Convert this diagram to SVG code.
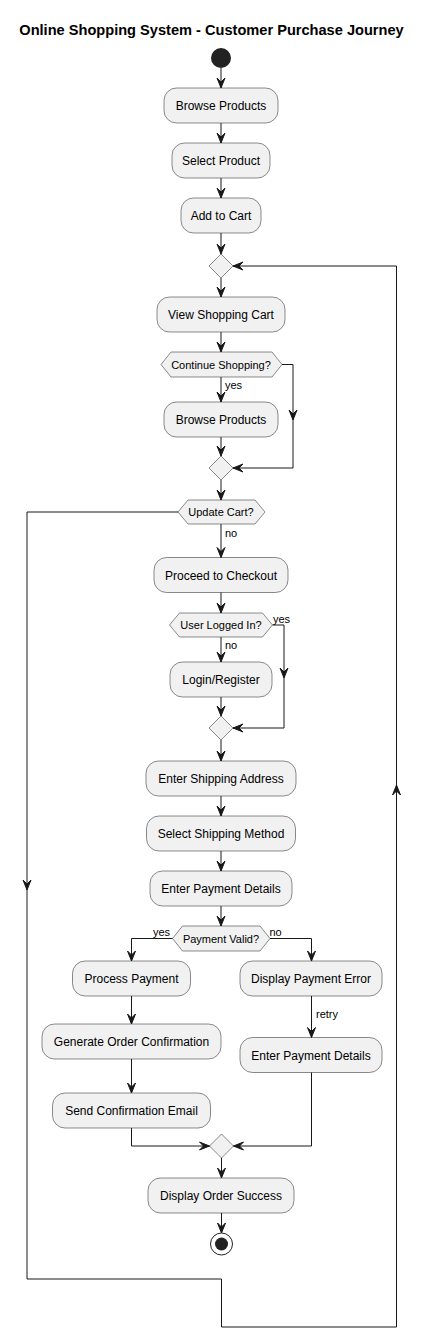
<svg xmlns="http://www.w3.org/2000/svg" width="425" height="1338" viewBox="0 0 425 1338">
<style>
.n rect{fill:#F1F1F1;stroke:#181818;stroke-width:0.5}
.n polygon{fill:#F1F1F1;stroke:#181818;stroke-width:0.5}
.t{font-family:"Liberation Sans",Arial,sans-serif;font-size:12px;fill:#000;text-anchor:middle}
.d{font-family:"Liberation Sans",Arial,sans-serif;font-size:11px;fill:#000;text-anchor:middle}
.l{font-family:"Liberation Sans",Arial,sans-serif;font-size:11px;fill:#000}
.title{font-family:"Liberation Sans",Arial,sans-serif;font-size:14.6px;font-weight:bold;fill:#000;text-anchor:middle}
#edges path{fill:none;stroke:#181818;stroke-width:1}
.ah{fill:#181818;stroke:#181818;stroke-width:1}
</style>
<defs>
<marker id="arr" markerUnits="userSpaceOnUse" markerWidth="12" markerHeight="10" refX="10" refY="4" orient="auto" overflow="visible">
<path d="M0,0 L10,4 L0,8 L4,4 Z" fill="#181818" stroke="#181818" stroke-width="1"/>
</marker>
<path id="ahd" d="M-4,-10 L0,0 L4,-10 L0,-6 Z"/>
</defs>
<rect width="425" height="1338" fill="#FFFFFF"/>
<text class="title" x="211.5" y="35">Online Shopping System - Customer Purchase Journey</text>

<g id="start"><circle cx="221" cy="58" r="10" fill="#222222"/></g>
<g id="browse1" class="n"><rect x="164" y="88" width="114" height="35" rx="12.5"/><text class="t" x="221" y="110">Browse Products</text></g>
<g id="select" class="n"><rect x="172" y="143" width="98" height="35" rx="12.5"/><text class="t" x="221" y="165">Select Product</text></g>
<g id="addcart" class="n"><rect x="181" y="198" width="80" height="35" rx="12.5"/><text class="t" x="221" y="220">Add to Cart</text></g>
<g id="merge1" class="n"><polygon points="221,254 233,266 221,278 209,266"/></g>
<g id="viewcart" class="n"><rect x="157" y="297" width="128" height="35" rx="12.5"/><text class="t" x="221" y="319">View Shopping Cart</text></g>
<g id="continue" class="n"><polygon points="161,364.5 171,352 272,352 282,364.5 272,377 171,377"/><text class="d" x="221" y="368.5">Continue Shopping?</text></g>
<g id="browse2" class="n"><rect x="164" y="402" width="114" height="35" rx="12.5"/><text class="t" x="221" y="424">Browse Products</text></g>
<g id="merge2" class="n"><polygon points="221,456 233,468 221,480 209,468"/></g>
<g id="update" class="n"><polygon points="178,512 188,500 255,500 265,512 255,524 188,524"/><text class="d" x="221" y="516">Update Cart?</text></g>
<g id="checkout" class="n"><rect x="154" y="557.5" width="134" height="35" rx="12.5"/><text class="t" x="221" y="579.5">Proceed to Checkout</text></g>
<g id="logged" class="n"><polygon points="169.5,625 179.5,613 262.5,613 272.5,625 262.5,637 179.5,637"/><text class="d" x="221" y="629">User Logged In?</text></g>
<g id="login" class="n"><rect x="170" y="662" width="102" height="35" rx="12.5"/><text class="t" x="221" y="684">Login/Register</text></g>
<g id="merge3" class="n"><polygon points="221,716 233,728 221,740 209,728"/></g>
<g id="shipaddr" class="n"><rect x="146" y="761" width="150" height="35" rx="12.5"/><text class="t" x="221" y="783">Enter Shipping Address</text></g>
<g id="shipmethod" class="n"><rect x="146.5" y="816" width="149" height="35" rx="12.5"/><text class="t" x="221" y="838">Select Shipping Method</text></g>
<g id="paydetails1" class="n"><rect x="150" y="871" width="142" height="35" rx="12.5"/><text class="t" x="221" y="893">Enter Payment Details</text></g>
<g id="payvalid" class="n"><polygon points="172.5,938.5 182.5,926 260,926 270,938.5 260,951 182.5,951"/><text class="d" x="221" y="942.5">Payment Valid?</text></g>
<g id="process" class="n"><rect x="72.5" y="961" width="118" height="35" rx="12.5"/><text class="t" x="131.5" y="983">Process Payment</text></g>
<g id="payerror" class="n"><rect x="240" y="961" width="142" height="35" rx="12.5"/><text class="t" x="311" y="983">Display Payment Error</text></g>
<g id="generate" class="n"><rect x="42" y="1024" width="179" height="35" rx="12.5"/><text class="t" x="131.5" y="1046">Generate Order Confirmation</text></g>
<g id="paydetails2" class="n"><rect x="240" y="1037.5" width="142" height="35" rx="12.5"/><text class="t" x="311" y="1059.5">Enter Payment Details</text></g>
<g id="sendemail" class="n"><rect x="52.5" y="1093" width="158" height="35" rx="12.5"/><text class="t" x="131.5" y="1115">Send Confirmation Email</text></g>
<g id="merge4" class="n"><polygon points="221.5,1134 233.5,1146 221.5,1158 209.5,1146"/></g>
<g id="success" class="n"><rect x="148" y="1178" width="146" height="35" rx="12.5"/><text class="t" x="221" y="1200">Display Order Success</text></g>
<g id="end"><circle cx="221.5" cy="1244" r="11" fill="none" stroke="#222222" stroke-width="1"/><circle cx="221.5" cy="1244" r="6.5" fill="#222222"/></g>

<g id="edges">
<path d="M221,68 L221,88" marker-end="url(#arr)"/>
<path d="M221,123 L221,143" marker-end="url(#arr)"/>
<path d="M221,178 L221,198" marker-end="url(#arr)"/>
<path d="M221,233 L221,254" marker-end="url(#arr)"/>
<path d="M221,278 L221,297" marker-end="url(#arr)"/>
<path d="M221,332 L221,352" marker-end="url(#arr)"/>
<path d="M221,377 L221,402" marker-end="url(#arr)"/>
<path d="M282,364.5 L293,364.5 L293,468 L233,468" marker-end="url(#arr)"/>
<use href="#ahd" class="ah" transform="translate(293,420)"/>
<path d="M221,437 L221,456" marker-end="url(#arr)"/>
<path d="M221,480 L221,500" marker-end="url(#arr)"/>
<path d="M221,524 L221,557.5" marker-end="url(#arr)"/>
<path d="M178,512 L27,512 L27,1279 L221.5,1279 L221.5,1327 L396.5,1327 L396.5,266 L233,266" marker-end="url(#arr)"/>
<use href="#ahd" class="ah" transform="translate(27,890)"/>
<use href="#ahd" class="ah" transform="translate(396.5,785) rotate(180)"/>
<path d="M221,592.5 L221,613" marker-end="url(#arr)"/>
<path d="M221,637 L221,662" marker-end="url(#arr)"/>
<path d="M272.5,625 L284,625 L284,728 L233,728" marker-end="url(#arr)"/>
<use href="#ahd" class="ah" transform="translate(284,678)"/>
<path d="M221,697 L221,716" marker-end="url(#arr)"/>
<path d="M221,740 L221,761" marker-end="url(#arr)"/>
<path d="M221,796 L221,816" marker-end="url(#arr)"/>
<path d="M221,851 L221,871" marker-end="url(#arr)"/>
<path d="M221,906 L221,926" marker-end="url(#arr)"/>
<path d="M172.5,938.5 L131.5,938.5 L131.5,961" marker-end="url(#arr)"/>
<path d="M270,938.5 L311.5,938.5 L311.5,961" marker-end="url(#arr)"/>
<path d="M131.5,996 L131.5,1024" marker-end="url(#arr)"/>
<path d="M311.5,996 L311.5,1037.5" marker-end="url(#arr)"/>
<path d="M131.5,1059 L131.5,1093" marker-end="url(#arr)"/>
<path d="M131.5,1128 L131.5,1146 L209.5,1146" marker-end="url(#arr)"/>
<path d="M311.5,1072.5 L311.5,1146 L233.5,1146" marker-end="url(#arr)"/>
<path d="M221.5,1158 L221.5,1178" marker-end="url(#arr)"/>
<path d="M221.5,1213 L221.5,1233" marker-end="url(#arr)"/>
</g>

<g id="labels">
<text class="l" x="225" y="389">yes</text>
<text class="l" x="225" y="537">no</text>
<text class="l" x="273" y="623">yes</text>
<text class="l" x="225" y="649">no</text>
<text class="l" x="153" y="936">yes</text>
<text class="l" x="269.5" y="936">no</text>
<text class="l" x="316" y="1018">retry</text>
</g>
</svg>
